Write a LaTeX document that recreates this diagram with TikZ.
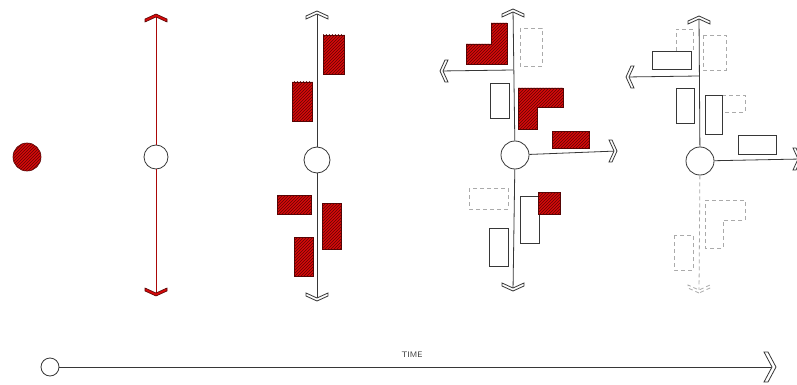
\documentclass[tikz,border=0pt]{standalone}
\usetikzlibrary{patterns}
\definecolor{sred}{RGB}{214,10,10}
\definecolor{ink}{RGB}{55,55,55}
\definecolor{ghost}{RGB}{170,170,170}
\tikzset{
  inkline/.style={draw=ink, line width=0.8pt},
  redline/.style={draw=sred!80!black, line width=0.8pt},
  ghostline/.style={draw=ghost, line width=0.8pt, dash pattern=on 4pt off 3pt},
  hatch/.style={fill=sred, postaction={pattern=north east lines, pattern color=sred!45!black}, draw=black!60!sred, line width=0.6pt},
  outl/.style={draw=ink, line width=0.8pt, fill=white},
  ghostbox/.style={draw=ghost, line width=0.8pt, dash pattern=on 4pt off 3pt},
  hub/.style={circle, draw=ink, line width=0.8pt, fill=white, minimum size=#1, inner sep=0pt},
  chev/.pic={\path[pic actions] (0,0)--(11,5)--(11,8)--(0,3)--(-11,8)--(-11,5)--cycle;},
  bigchev/.pic={\path[pic actions] (0,0)--(15,8)--(15,12)--(0,4)--(-15,12)--(-15,8)--cycle;}
}
\begin{document}
\begin{tikzpicture}[x=1pt,y=-1pt]
\useasboundingbox[fill=white] (0,0) rectangle (797,385);

% ---- panel 1: red dot
\node[hatch, circle, minimum size=28pt, inner sep=0pt] (dot) at (27,157) {};

% ---- panel 2
\node[hub=24pt] (c2) at (156,157) {};
\coordinate (t2) at (156,14);
\coordinate (b2) at (156,296);
\draw[redline] (c2) -- (t2);
\draw[redline] (c2) -- (b2);
\pic[fill=sred, draw=black!60!sred, line width=0.6pt] at (t2) {chev};
\pic[fill=sred, draw=black!60!sred, line width=0.6pt, rotate=180] at (b2) {chev};

% ---- panel 3
\node[hub=26pt] (c3) at (317,160) {};
\coordinate (t3) at (317,11);
\coordinate (b3) at (317,301);
\draw[inkline] (c3) -- (t3);
\draw[inkline] (c3) -- (b3);
\pic[outl] at (t3) {chev};
\pic[outl, rotate=180] at (b3) {chev};
\draw[hatch] (323,35) rectangle (344,74);
\draw[hatch] (292,82) rectangle (312,121);
\draw[hatch] (277,195) rectangle (311,214);
\draw[hatch] (322,203) rectangle (341,249);
\draw[hatch] (294,237) rectangle (313,276);

% ---- panel 4
\node[hub=28pt] (c4) at (515,155) {};
\coordinate (t4) at (513,9);
\coordinate (b4) at (513,291);
\coordinate (j4) at (513,70);
\coordinate (l4) at (440,71);
\coordinate (r4) at (617,151);
\draw[inkline] (c4) -- (t4);
\draw[inkline] (c4) -- (b4);
\draw[inkline] (j4) -- (l4);
\draw[inkline] (c4) -- (r4);
\pic[outl] at (t4) {chev};
\pic[outl, rotate=180] at (b4) {chev};
\pic[outl, rotate=90] at (l4) {chev};
\pic[outl, rotate=-90] at (r4) {chev};
\draw[hatch] (491,23) -- (507,23) -- (507,64) -- (466,64) -- (466,44) -- (491,44) -- cycle;
\draw[ghostbox] (520,28) rectangle (542,66);
\draw[outl] (490,83) rectangle (509,118);
\draw[hatch] (518,88) -- (563,88) -- (563,107) -- (537,107) -- (537,129) -- (518,129) -- cycle;
\draw[hatch] (552,131) rectangle (589,148);
\draw[ghostbox] (469,188) rectangle (508,209);
\draw[outl] (520,196) rectangle (539,243);
\draw[hatch] (538,192) rectangle (560,214);
\draw[outl] (489,228) rectangle (508,266);

% ---- panel 5
\node[hub=28pt] (c5) at (700,161) {};
\coordinate (t5) at (699,16);
\coordinate (b5) at (699,293);
\coordinate (j5) at (699,76);
\coordinate (l5) at (626,77);
\coordinate (r5) at (801,159);
\draw[inkline] (c5) -- (t5);
\draw[ghostline] (c5) -- (b5);
\draw[inkline] (j5) -- (l5);
\draw[inkline] (c5) -- (r5);
\pic[outl] at (t5) {chev};
\pic[ghostbox, fill=white, rotate=180] at (b5) {chev};
\pic[outl, rotate=90] at (l5) {chev};
\pic[outl, rotate=-90] at (r5) {chev};
\draw[ghostbox] (676,51) -- (676,29) -- (693,29) -- (693,51);
\draw[outl] (652,51) rectangle (691,69);
\draw[ghostbox] (703,35) rectangle (726,70);
\draw[outl] (676,88) rectangle (694,123);
\draw[ghostbox] (722,95) -- (745,95) -- (745,112) -- (722,112);
\draw[outl] (705,95) rectangle (722,134);
\draw[outl] (738,135) rectangle (776,154);
\draw[ghostbox] (705,200) -- (745,200) -- (745,220) -- (723,220) -- (723,248) -- (705,248) -- cycle;
\draw[ghostbox] (674,235) rectangle (693,270);

% ---- time line
\node[circle, draw=ink, line width=0.8pt, minimum width=18pt, minimum height=16pt, inner sep=0pt] (t0) at (50,367) {};
\coordinate (tend) at (776,367);
\draw[inkline] (t0) -- (tend);
\pic[outl, rotate=-90] at (tend) {bigchev};
\node[font=\sffamily\fontsize{8}{9}\selectfont, text=ink] (timelbl) at (412,355) {TIME};
\end{tikzpicture}
\end{document}
